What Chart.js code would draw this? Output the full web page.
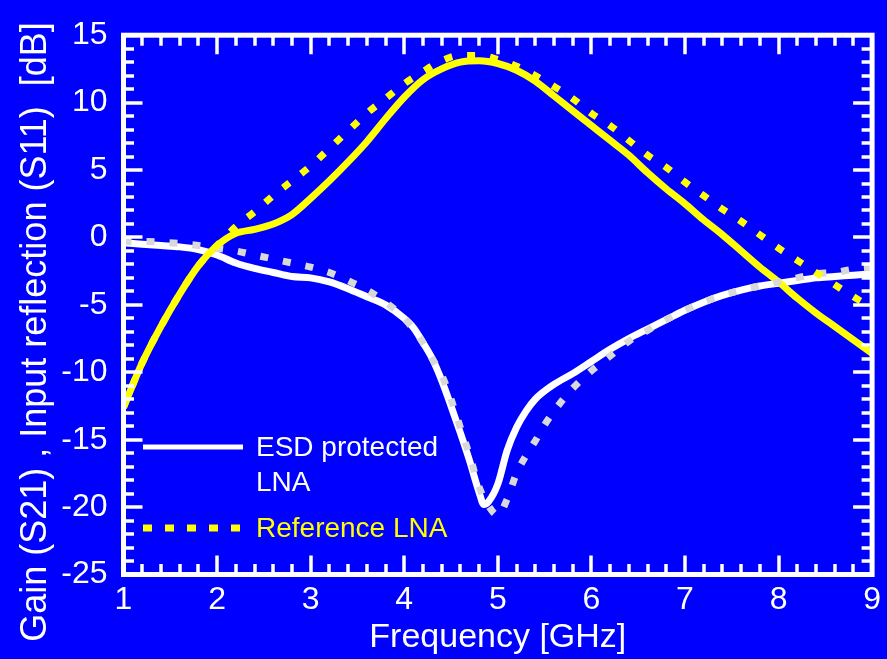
<!DOCTYPE html>
<html>
<head>
<meta charset="utf-8">
<script src="https://cdn.jsdelivr.net/npm/chart.js@4.4.1/dist/chart.umd.min.js"></script>
<style>
  html, body { margin: 0; padding: 0; background: #0000ff; }
  #wrap { width: 887px; height: 659px; position: relative; }
</style>
</head>
<body>
<div id="wrap"><canvas id="lnaChart"></canvas></div>
<script>
// Frequency grid [GHz] and curves [dB]
const esdGainFreq = [1.0, 1.2, 1.4, 1.6, 1.8, 2.0, 2.2, 2.4, 2.6, 2.8, 3.0, 3.2, 3.4, 3.6, 3.8, 4.0, 4.2, 4.4, 4.6, 4.8, 5.0, 5.2, 5.4, 5.6, 5.8, 6.0, 6.2, 6.4, 6.6, 6.8, 7.0, 7.2, 7.4, 7.6, 7.8, 8.0, 8.2, 8.4, 8.6, 8.8, 9.0];
const esdGain = [-12.6, -9.3, -6.6, -4.2, -2.1, -0.6, 0.3, 0.6, 1.0, 1.7, 2.9, 4.2, 5.6, 7.1, 8.8, 10.4, 11.7, 12.5, 13.0, 13.1, 12.9, 12.4, 11.6, 10.5, 9.4, 8.3, 7.2, 6.1, 4.8, 3.6, 2.5, 1.3, 0.2, -1.0, -2.2, -3.3, -4.5, -5.6, -6.6, -7.6, -8.6];

const refGainFreq = esdGainFreq;
const refGain = [-12.6, -9.3, -6.6, -4.2, -2.1, -0.6, 0.8, 1.9, 3.1, 4.2, 5.3, 6.6, 7.9, 9.2, 10.3, 11.4, 12.3, 13.1, 13.5, 13.5, 13.2, 12.7, 12.0, 11.2, 10.3, 9.2, 8.3, 7.2, 6.1, 5.2, 4.1, 3.1, 2.1, 1.2, 0.2, -0.8, -1.7, -2.6, -3.5, -4.4, -5.2];

const esdS11Freq = [1.0, 1.2, 1.4, 1.6, 1.8, 2.0, 2.2, 2.4, 2.6, 2.8, 3.0, 3.2, 3.4, 3.6, 3.8, 4.0, 4.1, 4.2, 4.3, 4.4, 4.5, 4.6, 4.7, 4.8, 4.85, 4.9, 5.0, 5.1, 5.2, 5.3, 5.4, 5.6, 5.8, 6.0, 6.2, 6.4, 6.6, 6.8, 7.0, 7.2, 7.4, 7.6, 7.8, 8.0, 8.2, 8.4, 8.6, 8.8, 9.0];
const esdS11 = [-0.4, -0.5, -0.6, -0.7, -0.9, -1.3, -1.9, -2.3, -2.6, -2.9, -3.0, -3.3, -3.8, -4.4, -5.0, -6.0, -6.7, -7.8, -9.0, -10.6, -12.5, -14.5, -16.6, -18.9, -19.8, -19.6, -18.3, -15.8, -14.1, -12.9, -12.0, -10.9, -10.1, -9.2, -8.3, -7.5, -6.8, -6.1, -5.4, -4.8, -4.3, -3.9, -3.6, -3.4, -3.2, -3.0, -2.9, -2.8, -2.7];

const refS11Freq = [1.0, 1.2, 1.4, 1.6, 1.8, 2.0, 2.2, 2.4, 2.6, 2.8, 3.0, 3.2, 3.4, 3.6, 3.8, 4.0, 4.2, 4.3, 4.4, 4.5, 4.6, 4.7, 4.8, 4.9, 5.0, 5.1, 5.2, 5.3, 5.4, 5.5, 5.6, 5.7, 5.8, 6.0, 6.2, 6.4, 6.6, 6.8, 7.0, 7.2, 7.4, 7.6, 7.8, 8.0, 8.2, 8.4, 8.6, 8.8, 9.0];
const refS11 = [-0.3, -0.3, -0.35, -0.45, -0.6, -0.8, -1.0, -1.3, -1.6, -1.9, -2.2, -2.6, -3.2, -3.9, -4.8, -6.0, -7.8, -9.0, -10.2, -12.0, -14.1, -16.2, -18.5, -19.9, -20.6, -19.4, -17.5, -16.2, -15.1, -13.9, -12.9, -12.0, -11.2, -9.9, -8.8, -7.7, -6.9, -6.1, -5.4, -4.8, -4.3, -3.9, -3.6, -3.3, -3.0, -2.7, -2.6, -2.35, -2.2];

const xTicks = [1, 2, 3, 4, 5, 6, 7, 8, 9];
const yTicks = [-25, -20, -15, -10, -5, 0, 5, 10, 15];

const FONT = "'Liberation Sans', Arial, sans-serif";

function pts(xs, ys) {
  return xs.map((x, i) => ({ x: x, y: ys[i] }));
}

// frame with inward ticks on all four sides, y title and legend
const framePlugin = {
  id: "frame",
  afterDraw(chart) {
    const ctx = chart.ctx;
    const a = chart.chartArea;
    const xs = chart.scales.x;
    const ys = chart.scales.y;
    ctx.save();
    ctx.strokeStyle = "#fff";
    ctx.lineWidth = 5;
    ctx.strokeRect(a.left, a.top, a.right - a.left, a.bottom - a.top);
    ctx.lineWidth = 3.5;
    ctx.beginPath();
    for (let k = 0; k <= 40; k++) {
      const v = 1 + k * 0.2;
      const px = Math.round(xs.getPixelForValue(v));
      const len = k % 5 === 0 ? 19 : 10.5;
      ctx.moveTo(px, a.bottom);
      ctx.lineTo(px, a.bottom - len);
      ctx.moveTo(px, a.top);
      ctx.lineTo(px, a.top + len);
    }
    for (let v = -25; v <= 15; v++) {
      const py = Math.round(ys.getPixelForValue(v));
      const len = v % 5 === 0 ? 19 : 10.5;
      ctx.moveTo(a.left, py);
      ctx.lineTo(a.left + len, py);
      ctx.moveTo(a.right, py);
      ctx.lineTo(a.right - len, py);
    }
    ctx.stroke();

    // y axis title
    ctx.save();
    ctx.translate(36, 332);
    ctx.rotate(-Math.PI / 2);
    ctx.font = "36px " + FONT;
    ctx.fillStyle = "#fff";
    ctx.textAlign = "center";
    ctx.textBaseline = "middle";
    ctx.fillText("Gain (S21) , Input reflection (S11)  [dB]", 0, 0);
    ctx.restore();

    // legend
    ctx.font = "28px " + FONT;
    ctx.textBaseline = "middle";
    ctx.textAlign = "left";
    ctx.lineWidth = 5;
    ctx.strokeStyle = "#fff";
    ctx.beginPath();
    ctx.moveTo(143, 447);
    ctx.lineTo(243, 447);
    ctx.stroke();
    ctx.fillStyle = "#fff";
    ctx.fillText("ESD protected", 256, 448);
    ctx.fillText("LNA", 256, 483);

    ctx.strokeStyle = "#ffff00";
    ctx.lineWidth = 7;
    ctx.setLineDash([9, 13]);
    ctx.beginPath();
    ctx.moveTo(143, 528);
    ctx.lineTo(245, 528);
    ctx.stroke();
    ctx.setLineDash([]);
    ctx.fillStyle = "#ffff00";
    ctx.fillText("Reference LNA", 256, 529);
    ctx.restore();
  },
};

document.addEventListener("DOMContentLoaded", function () {
  new Chart(document.getElementById("lnaChart").getContext("2d"), {
    type: "line",
    data: {
      datasets: [
        {
          label: "Reference LNA S21",
          data: pts(refGainFreq, refGain),
          borderColor: "#ffff00",
          borderWidth: 7,
          borderDash: [8, 15],
          borderCapStyle: "butt",
        },
        {
          label: "Reference LNA S11",
          data: pts(refS11Freq, refS11),
          borderColor: "#d8d8d8",
          borderWidth: 7,
          borderDash: [8, 15],
          borderCapStyle: "butt",
        },
        {
          label: "ESD protected LNA S21",
          data: pts(esdGainFreq, esdGain),
          borderColor: "#ffff00",
          borderWidth: 7,
        },
        {
          label: "ESD protected LNA S11",
          data: pts(esdS11Freq, esdS11),
          borderColor: "#ffffff",
          borderWidth: 7,
        },
      ],
    },
    options: {
      responsive: true,
      maintainAspectRatio: false,
      animation: false,
      events: [],
      elements: {
        point: { radius: 0 },
        line: { cubicInterpolationMode: "monotone", fill: false },
      },
      layout: { padding: { top: 34.5, right: 12.5, left: 0, bottom: 0 } },
      plugins: { legend: { display: false }, tooltip: { enabled: false } },
      scales: {
        x: {
          type: "linear",
          min: 1,
          max: 9,
          afterFit: (s) => { s.height = 84.5; },
          afterBuildTicks: (s) => { s.ticks = xTicks.map((v) => ({ value: v })); },
          grid: { display: false, drawTicks: false },
          border: { display: false },
          ticks: { color: "#fff", font: { family: FONT, size: 32 }, padding: 6, maxRotation: 0 },
          title: {
            display: true,
            text: "Frequency [GHz]",
            color: "#fff",
            font: { family: FONT, size: 34 },
            padding: { top: 0, bottom: 1 },
          },
        },
        y: {
          type: "linear",
          min: -25,
          max: 15,
          afterFit: (s) => { s.width = 123.5; },
          afterBuildTicks: (s) => { s.ticks = yTicks.map((v) => ({ value: v })); },
          grid: { display: false, drawTicks: false },
          border: { display: false },
          ticks: { color: "#fff", font: { family: FONT, size: 32 }, padding: 16 },
        },
      },
    },
    plugins: [framePlugin],
  });
});
</script>
</body>
</html>
